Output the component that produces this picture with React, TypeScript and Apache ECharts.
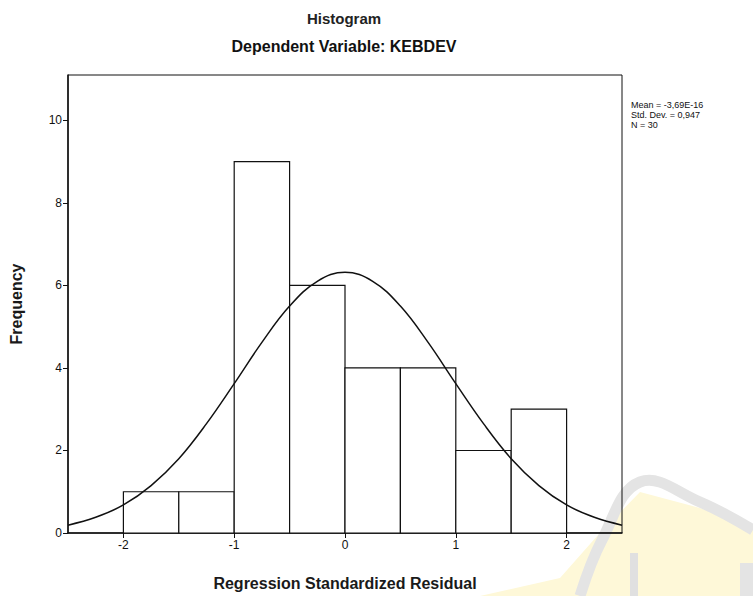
import React, { useEffect, useRef } from "react";
import * as echarts from "echarts";

const binStarts = [-2, -1.5, -1, -0.5, 0, 0.5, 1, 1.5];
const binWidth = 0.5;
const counts = [1, 1, 9, 6, 4, 4, 2, 3];

const curveX = [-2.5, -2.25, -2, -1.75, -1.5, -1.25, -1, -0.75, -0.5, -0.25, 0, 0.25, 0.5, 0.75, 1, 1.25, 1.5, 1.75, 2, 2.25, 2.5];
const curveY = [0.19, 0.38, 0.68, 1.15, 1.8, 2.65, 3.62, 4.62, 5.5, 6.1, 6.32, 6.1, 5.5, 4.62, 3.62, 2.65, 1.8, 1.15, 0.68, 0.38, 0.19];

const xTicks = [-2, -1, 0, 1, 2];
const yTicks = [0, 2, 4, 6, 8, 10];

const statsLines = ["Mean = -3,69E-16", "Std. Dev. = 0,947", "N = 30"];

const FONT = "'Liberation Sans', Arial, sans-serif";

export default function App() {
  const ref = useRef<HTMLDivElement>(null);
  useEffect(() => {
    if (!ref.current) return;
    const chart = echarts.init(ref.current, null, { renderer: "svg" });
    const histData = binStarts.map((s, i) => [s, s + binWidth, counts[i]]);
    const curveData = curveX.map((x, i) => [x, curveY[i]]);
    chart.setOption({
      animation: false,
      backgroundColor: "#ffffff",
      textStyle: { fontFamily: FONT },
      grid: {
        left: 66,
        right: 131,
        top: 75,
        bottom: 61,
        show: true,
        borderColor: "#111",
        borderWidth: 1,
        backgroundColor: "transparent",
      },
      xAxis: {
        type: "value",
        min: -2.5,
        max: 2.5,
        name: "Regression Standardized Residual",
        nameLocation: "middle",
        nameGap: 42,
        nameTextStyle: { fontFamily: FONT, fontWeight: "bold", fontSize: 16, color: "#1a1a1a" },
        axisLine: { show: true, onZero: false, lineStyle: { color: "#111", width: 1.5 } },
        axisTick: { show: true, customValues: xTicks, length: 5, lineStyle: { color: "#111" } },
        axisLabel: { customValues: xTicks, color: "#111", fontSize: 12, margin: 6, fontFamily: FONT },
        splitLine: { show: false },
      },
      yAxis: {
        type: "value",
        min: 0,
        max: 11.1,
        name: "Frequency",
        nameLocation: "middle",
        nameRotate: 90,
        nameGap: 44,
        nameTextStyle: { fontFamily: FONT, fontWeight: "bold", fontSize: 16, color: "#1a1a1a" },
        axisLine: { show: true, onZero: false, lineStyle: { color: "#111", width: 1.5 } },
        axisTick: { show: true, customValues: yTicks, length: 5, lineStyle: { color: "#111" } },
        axisLabel: { customValues: yTicks, color: "#111", fontSize: 12, margin: 6, fontFamily: FONT },
        splitLine: { show: false },
      },
      graphic: [
        { type: "polygon", z: -10, silent: true, shape: { points: [[480, 596], [560, 578], [598, 535], [640, 492], [700, 508], [753, 528], [753, 596]] }, style: { fill: "#fef8d8" } },
        { type: "polyline", z: -9, silent: true, shape: { points: [[580, 596], [602, 540], [640, 482], [700, 502], [753, 530]], smooth: 0.4 }, style: { stroke: "#e4e4e4", lineWidth: 11, fill: "none" } },
        { type: "rect", z: -9, silent: true, shape: { x: 630, y: 553, width: 8, height: 43 }, style: { fill: "#e0e0e0" } },
        { type: "rect", z: -9, silent: true, shape: { x: 740, y: 563, width: 13, height: 33 }, style: { fill: "#e4e4e4" } },
        { type: "text", x: 344, y: 18, style: { text: "Histogram", fontFamily: FONT, fontWeight: "bold", fontSize: 15, fill: "#222", textAlign: "center", textVerticalAlign: "middle" } },
        { type: "text", x: 344, y: 46, style: { text: "Dependent Variable: KEBDEV", fontFamily: FONT, fontWeight: "bold", fontSize: 16, fill: "#111", textAlign: "center", textVerticalAlign: "middle" } },
        {
          type: "text",
          x: 631,
          y: 100,
          style: {
            text: statsLines.join("\n"),
            fontFamily: "'Liberation Sans Narrow', 'Liberation Sans', Arial",
            fontSize: 9,
            lineHeight: 10,
            fill: "#111",
            textAlign: "left",
            textVerticalAlign: "top",
          },
        },
      ],
      series: [
        {
          type: "custom",
          data: histData,
          encode: { x: [0, 1], y: 2 },
          renderItem: (params: any, api: any) => {
            const p0 = api.coord([api.value(0), api.value(2)]);
            const p1 = api.coord([api.value(1), 0]);
            return {
              type: "rect",
              shape: { x: p0[0], y: p0[1], width: p1[0] - p0[0], height: p1[1] - p0[1] },
              style: { fill: "#ffffff", stroke: "#111", lineWidth: 1.2 },
            };
          },
          z: 2,
        },
        {
          type: "line",
          data: curveData,
          smooth: 0.4,
          showSymbol: false,
          lineStyle: { color: "#111", width: 1.5 },
          z: 3,
        },
      ],
    });
    return () => chart.dispose();
  }, []);
  return <div ref={ref} style={{ position: "fixed", left: 0, top: 0, width: 753, height: 596 }} />;
}
